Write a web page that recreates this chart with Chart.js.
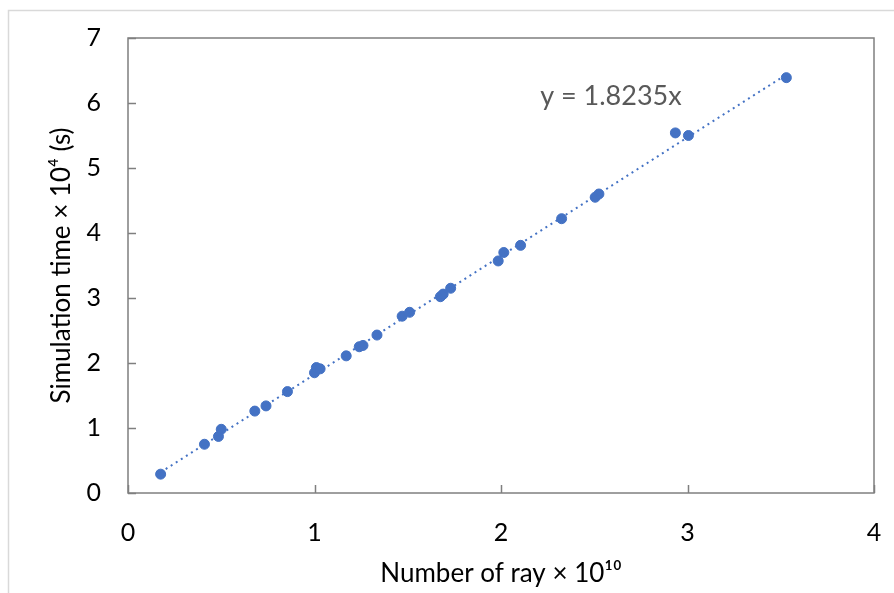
<!DOCTYPE html>
<html>
<head>
<meta charset="utf-8">
<script src="https://cdn.jsdelivr.net/npm/chart.js@4.4.1/dist/chart.umd.min.js"></script>
<style>
  html, body { margin: 0; padding: 0; background: #fff; overflow: hidden; }
  #wrap { width: 894px; height: 593px; position: relative; }
  #chart { display: block; }
</style>
</head>
<body>
<div id="wrap"><canvas id="chart"></canvas></div>
<script>
// Number of rays (x 10^10) and simulation time (x 10^4 s)
const rayCount = [0.175, 0.41, 0.485, 0.50, 0.68, 0.74, 0.855, 1.00, 1.01, 1.03,
  1.17, 1.24, 1.26, 1.335, 1.47, 1.51, 1.675, 1.69, 1.73, 1.985,
  2.015, 2.105, 2.325, 2.505, 2.525, 2.935, 3.005, 3.53];
const simTime = [0.29, 0.75, 0.87, 0.98, 1.26, 1.34, 1.56, 1.85, 1.93, 1.91,
  2.11, 2.25, 2.27, 2.43, 2.72, 2.78, 3.02, 3.06, 3.15, 3.57,
  3.70, 3.81, 4.22, 4.55, 4.60, 5.54, 5.50, 6.39];
const slope = 1.8235;
const xTicks = [0, 1, 2, 3, 4];
const yTicks = [0, 1, 2, 3, 4, 5, 6, 7];

const FONT = 'Lato, "Open Sans", sans-serif';
const BLUE = '#4472C4';

const points = rayCount.map((x, i) => ({ x: x, y: simTime[i] }));
const xMin = Math.min(...rayCount);
const xMax = Math.max(...rayCount);
const trend = [
  { x: xMin, y: slope * xMin },
  { x: xMax, y: slope * xMax }
];

// frame, inside ticks, outer border and the trendline equation
const decor = {
  id: 'decor',
  beforeDraw(chart) {
    const ctx = chart.ctx;
    ctx.save();
    ctx.fillStyle = '#fff';
    ctx.fillRect(0, 0, chart.width, chart.height);
    ctx.strokeStyle = '#d9d9d9';
    ctx.lineWidth = 1.5;
    ctx.strokeRect(8.5, 10.5, chart.width + 20, chart.height + 20);
    ctx.restore();
  },
  afterDatasetsDraw(chart) {
    const { ctx, chartArea: a, scales } = chart;
    ctx.save();
    ctx.strokeStyle = '#7f7f7f';
    ctx.lineWidth = 1.5;
    ctx.strokeRect(a.left, a.top, a.right - a.left, a.bottom - a.top);
    ctx.beginPath();
    xTicks.forEach(v => {
      const px = Math.round(scales.x.getPixelForValue(v)) + 0.5;
      ctx.moveTo(px, a.bottom);
      ctx.lineTo(px, a.bottom - 8);
    });
    yTicks.forEach(v => {
      const py = Math.round(scales.y.getPixelForValue(v)) + 0.5;
      ctx.moveTo(a.left, py);
      ctx.lineTo(a.left + 8, py);
    });
    ctx.stroke();

    ctx.fillStyle = '#595959';
    ctx.font = '27px ' + FONT;
    ctx.textBaseline = 'middle';
    ctx.fillText('y = ' + slope + 'x', scales.x.getPixelForValue(2.21), scales.y.getPixelForValue(6.1));
    ctx.restore();
  }
};

new Chart(document.getElementById('chart'), {
  type: 'scatter',
  data: {
    datasets: [
      {
        label: 'trend',
        type: 'line',
        data: trend,
        borderColor: BLUE,
        borderWidth: 2,
        borderDash: [2, 4],
        pointRadius: 0,
        fill: false
      },
      {
        label: 'time',
        data: points,
        backgroundColor: BLUE,
        borderColor: BLUE,
        pointRadius: 5,
        pointHoverRadius: 5
      }
    ]
  },
  options: {
    responsive: true,
    maintainAspectRatio: false,
    animation: false,
    layout: { padding: { left: 0, top: 38, right: 20, bottom: 0 } },
    plugins: {
      legend: { display: false },
      tooltip: { enabled: false }
    },
    scales: {
      x: {
        type: 'linear',
        min: 0,
        max: 4,
        afterFit: s => { s.height = 100; s.paddingLeft = 0; s.paddingRight = 0; },
        afterBuildTicks: s => { s.ticks = xTicks.map(v => ({ value: v })); },
        grid: { display: false, drawTicks: false },
        border: { display: false },
        ticks: {
          color: '#000',
          padding: 25,
          font: { family: FONT, size: 25 }
        },
        title: {
          display: true,
          text: 'Number of ray × 10¹⁰',
          color: '#000',
          padding: { top: 0, bottom: 4 },
          font: { family: FONT, size: 26 }
        }
      },
      y: {
        type: 'linear',
        min: 0,
        max: 7,
        afterFit: s => { s.width = 128; s.paddingTop = 0; s.paddingBottom = 0; },
        afterBuildTicks: s => { s.ticks = yTicks.map(v => ({ value: v })); },
        grid: { display: false, drawTicks: false },
        border: { display: false },
        ticks: {
          color: '#000',
          padding: 27,
          font: { family: FONT, size: 25 }
        },
        title: {
          display: true,
          text: 'Simulation time × 10⁴ (s)',
          color: '#000',
          padding: { top: 46, bottom: 0 },
          font: { family: FONT, size: 26 }
        }
      }
    }
  },
  plugins: [decor]
});
</script>
</body>
</html>
